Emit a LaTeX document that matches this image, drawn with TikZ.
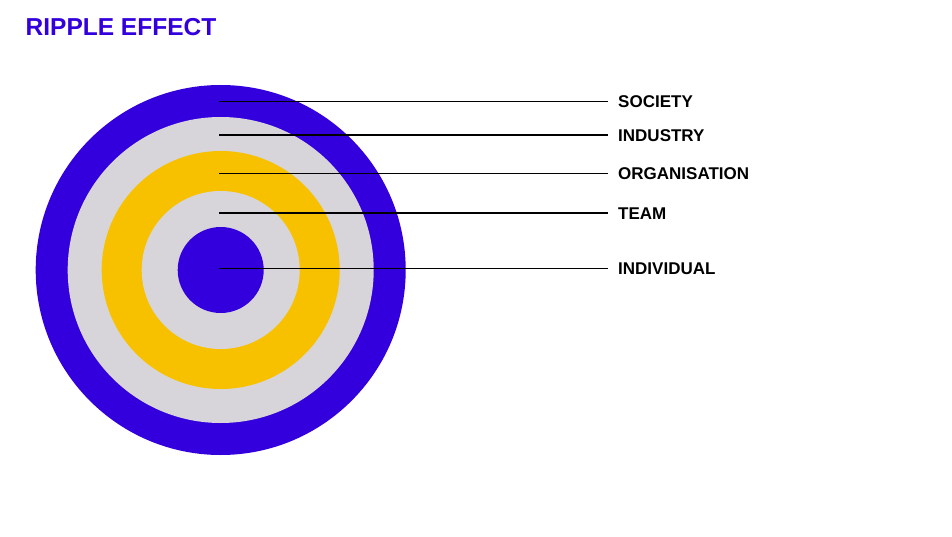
\documentclass[tikz,border=0pt]{standalone}
\usepackage{fontspec}
\setmainfont{Liberation Sans}
\usepackage{tikz}
\usetikzlibrary{positioning}
\definecolor{ripple}{HTML}{3300DD}
\definecolor{mist}{HTML}{D8D5DA}
\definecolor{sun}{HTML}{F7C100}

\begin{document}
\begin{tikzpicture}[
  x=1pt, y=-1pt,
  ring/.style={circle, inner sep=0pt, minimum size=#1},
  lbl/.style={anchor=west, inner sep=0pt, text height=12.2pt, text depth=0pt, font=\fontsize{17}{17}\selectfont\bfseries},
  lead/.style={line width=1.2pt, black, shorten >=10pt},
]
\useasboundingbox[fill=white] (0,0) rectangle (952,537);
% title
\node[anchor=west, inner sep=0pt, text=ripple, font=\fontsize{24.5}{24.5}\selectfont\bfseries] (title) at (25.5,27.5) {RIPPLE EFFECT};
% rings
\node[ring=370pt, fill=ripple] (society) at (220.7,270) {};
\node[ring=306pt, fill=mist] (industry) at (society.center) {};
\node[ring=238pt, fill=sun] (organisation) at (society.center) {};
\node[ring=158pt, fill=mist] (team) at (society.center) {};
\node[ring=86pt, fill=ripple] (individual) at (society.center) {};
% labels
\node[lbl] (lsociety) at (618,101.5) {SOCIETY};
\node[lbl] (lindustry) at (618,135) {INDUSTRY};
\node[lbl] (lorganisation) at (618,173.5) {ORGANISATION};
\node[lbl] (lteam) at (618,213) {TEAM};
\node[lbl] (lindividual) at (618,268.5) {INDIVIDUAL};
% leader lines
\coordinate (psociety) at (219,101.5);
\coordinate (pindustry) at (219,135);
\coordinate (porganisation) at (219,173.5);
\coordinate (pteam) at (219,213);
\coordinate (pindividual) at (219,268.5);
\draw[lead] (psociety) -- (lsociety.west);
\draw[lead] (pindustry) -- (lindustry.west);
\draw[lead] (porganisation) -- (lorganisation.west);
\draw[lead] (pteam) -- (lteam.west);
\draw[lead] (pindividual) -- (lindividual.west);
\end{tikzpicture}
\end{document}
